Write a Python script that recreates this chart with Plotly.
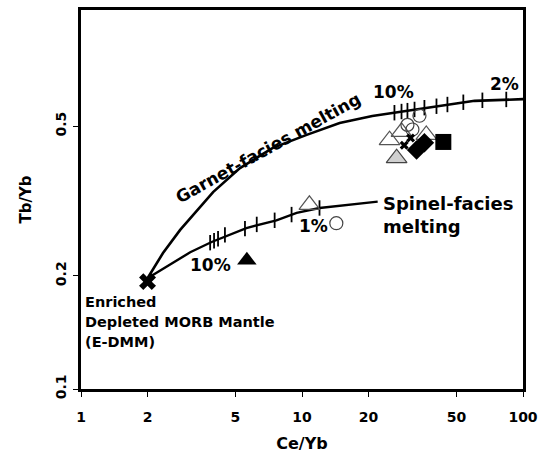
import plotly.graph_objects as go

# Melting curves (Ce/Yb, Tb/Yb)
garnet_x = [2.0, 2.35, 2.81, 3.35, 3.96, 5.24, 7.38, 10.5, 14.8, 20.8, 25.7, 41.9, 60.4, 100]
garnet_y = [0.197, 0.23, 0.265, 0.299, 0.334, 0.387, 0.438, 0.474, 0.510, 0.532, 0.542, 0.566, 0.584, 0.59]
spinel_x = [2.0, 3.12, 3.9, 5.6, 7.66, 9.46, 12.0, 20.8, 22.0]
spinel_y = [0.197, 0.231, 0.246, 0.268, 0.281, 0.294, 0.303, 0.314, 0.315]

# Melt-fraction ticks along curves
garnet_tick_x = [26.2, 28.2, 30.0, 32.3, 35.8, 40.6, 45.5, 53.7, 65.5, 84.0]
garnet_tick_y = [0.543, 0.547, 0.55, 0.554, 0.56, 0.565, 0.571, 0.579, 0.586, 0.589]
spinel_tick_x = [3.84, 4.0, 4.17, 4.48, 5.52, 6.24, 7.52, 8.97, 12.0]
spinel_tick_y = [0.245, 0.248, 0.251, 0.257, 0.267, 0.274, 0.281, 0.291, 0.303]

# Samples
open_tri_x = [10.8, 24.9, 28.2, 36.5]
open_tri_y = [0.309, 0.459, 0.483, 0.474]
gray_tri_x = [26.8]
gray_tri_y = [0.411]
filled_tri_x = [5.63]
filled_tri_y = [0.22]
open_circ_x = [14.3, 30.0, 34.0, 31.6]
open_circ_y = [0.276, 0.504, 0.533, 0.49]
diamond_x = [33.0, 35.8]
diamond_y = [0.432, 0.452]
square_x = [43.6]
square_y = [0.454]
cross_x = [31.0, 29.0]
cross_y = [0.465, 0.445]
edmm_x = [2]
edmm_y = [0.193]

x_ticks = [1, 2, 5, 10, 20, 50, 100]
y_ticks = [0.1, 0.2, 0.5]

fig = go.Figure()
fig.add_trace(go.Scatter(x=garnet_x, y=garnet_y, mode="lines", line=dict(color="black", width=2.6)))
fig.add_trace(go.Scatter(x=spinel_x, y=spinel_y, mode="lines", line=dict(color="black", width=2.4)))
tick_marker = dict(symbol="line-ns", size=11, line=dict(color="black", width=1.8))
fig.add_trace(go.Scatter(x=garnet_tick_x, y=garnet_tick_y, mode="markers", marker=tick_marker))
fig.add_trace(go.Scatter(x=spinel_tick_x, y=spinel_tick_y, mode="markers", marker=tick_marker))

fig.add_trace(go.Scatter(x=open_tri_x, y=open_tri_y, mode="markers",
                         marker=dict(symbol="triangle-up-open", size=18, color="#555", line=dict(width=1.2))))
fig.add_trace(go.Scatter(x=gray_tri_x, y=gray_tri_y, mode="markers",
                         marker=dict(symbol="triangle-up", size=18, color="#d0d0d0", line=dict(color="#444", width=1.2))))
fig.add_trace(go.Scatter(x=open_circ_x, y=open_circ_y, mode="markers",
                         marker=dict(symbol="circle-open", size=13, color="#444", line=dict(width=1.2))))
fig.add_trace(go.Scatter(x=filled_tri_x, y=filled_tri_y, mode="markers",
                         marker=dict(symbol="triangle-up", size=17, color="black")))
fig.add_trace(go.Scatter(x=diamond_x, y=diamond_y, mode="markers",
                         marker=dict(symbol="diamond", size=15, color="black")))
fig.add_trace(go.Scatter(x=square_x, y=square_y, mode="markers",
                         marker=dict(symbol="square", size=16, color="black")))
fig.add_trace(go.Scatter(x=cross_x, y=cross_y, mode="markers",
                         marker=dict(symbol="x", size=8, color="black")))
fig.add_trace(go.Scatter(x=edmm_x, y=edmm_y, mode="markers",
                         marker=dict(symbol="x", size=15, color="black")))

# plot area in pixels: x 81..523, y 10..389
L, R, T, B = 81, 523, 10, 389
def px(x):
    return (x - L) / (R - L)
def py(y):
    return (B - y) / (B - T)

bold = dict(family="DejaVu Sans, Liberation Sans, sans-serif", color="black", weight="bold")
ann = []
def add(text, x, y, size, xanchor="center", angle=0):
    ann.append(dict(text=text, x=px(x), y=py(y), xref="paper", yref="paper", showarrow=False,
                    xanchor=xanchor, yanchor="middle", textangle=angle,
                    font=dict(size=size, **bold)))

add("Garnet-facies melting", 268, 148, 17, angle=-29)
add("10%", 393, 92, 17)
add("2%", 504, 84, 17)
add("Spinel-facies", 381, 203, 18, xanchor="left")
add("melting", 381, 226, 18, xanchor="left")
add("1%", 313, 226, 17)
add("10%", 210, 265, 17)
add("Enriched", 83, 302, 14.5, xanchor="left")
add("Depleted MORB Mantle", 83, 322, 14.5, xanchor="left")
add("(E-DMM)", 83, 342, 14.5, xanchor="left")

axis_common = dict(type="log", showline=True, linewidth=3, linecolor="black", mirror=True,
                   ticks="outside", ticklen=5, tickwidth=1.2, tickcolor="black",
                   showgrid=False, zeroline=False, automargin=False,
                   tickfont=dict(size=14, **bold))

fig.update_layout(
    width=545, height=453,
    margin=dict(l=L, r=545 - R, t=T, b=453 - B),
    plot_bgcolor="white", paper_bgcolor="white",
    showlegend=False,
    annotations=ann,
    xaxis=dict(range=[0, 2], tickvals=x_ticks, ticktext=[str(v) for v in x_ticks],
               ticklabelstandoff=8,
               title=dict(text="Ce/Yb", standoff=16, font=dict(size=16, **bold)), **axis_common),
    yaxis=dict(range=[-1, 0.008], tickvals=y_ticks, ticktext=[str(v) for v in y_ticks],
               tickangle=-90, ticklabelstandoff=1,
               title=dict(text="Tb/Yb", standoff=19, font=dict(size=15, **bold)), **axis_common),
)

fig.write_html("out.html")
